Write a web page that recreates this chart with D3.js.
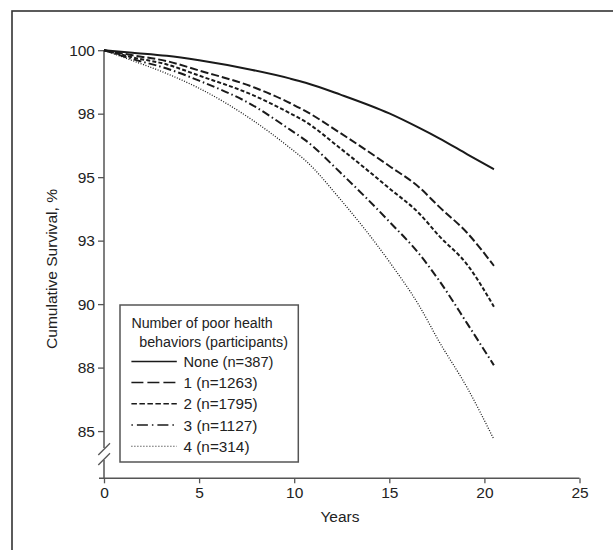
<!DOCTYPE html>
<html>
<head>
<meta charset="utf-8">
<script src="https://cdn.jsdelivr.net/npm/d3@7/dist/d3.min.js"></script>
<style>
  html, body { margin: 0; padding: 0; background: #fff; }
  svg { display: block; }
  text { font-family: "Liberation Sans", Arial, sans-serif; fill: #222; }
</style>
</head>
<body>
<script>
// ---- data ----
const years = [0, 1.5, 3.3, 5, 7.8, 9.8, 10.6, 12.4, 15, 16.6, 17.6, 19.1, 20.5];
const seriesNames = ["None (n=387)", "1 (n=1263)", "2 (n=1795)", "3 (n=1127)", "4 (n=314)"];
const survNone = [100, 99.9, 99.78, 99.6, 99.22, 98.88, 98.72, 98.26, 97.51, 96.93, 96.54, 95.9, 95.31];
const surv1    = [100, 99.8, 99.57, 99.2, 98.56, 97.91, 97.6, 96.75, 95.44, 94.58, 93.85, 92.8, 91.51];
const surv2    = [100, 99.72, 99.44, 99.0, 98.24, 97.51, 97.18, 96.15, 94.56, 93.55, 92.7, 91.55, 89.9];
const surv3    = [100, 99.65, 99.28, 98.8, 97.84, 96.86, 96.45, 95.2, 93.25, 91.95, 90.95, 89.23, 87.59];
const surv4    = [100, 99.59, 99.08, 98.5, 97.25, 96.14, 95.65, 94.15, 91.67, 89.9, 88.55, 86.7, 84.67];
const xTicks = [0, 5, 10, 15, 20, 25];
const yTicks = [100, 97.5, 95, 92.5, 90, 87.5, 85];
const yTickLabels = ["100", "98", "95", "93", "90", "88", "85"];
const legendTitle = ["Number of poor health", "behaviors (participants)"];

const allSeries = [survNone, surv1, surv2, surv3, surv4];
const legendDashes = [null, "12,4", "5.5,2.5", "1.5,4,11,4", "1,2"];
const curveDashes = [null, "8,3", "4,2.2", "8,3,1.5,3", "1,1.6"];
const widths = [2, 2, 2, 2, 1.3];

const W = 613, H = 550;
const FS = 15.5;
const svg = d3.select("body").append("svg").attr("width", W).attr("height", H);

// outer frame (continues past right/bottom edges)
svg.append("rect").attr("x", 12).attr("y", 11).attr("width", 640).attr("height", 600)
  .attr("fill", "none").attr("stroke", "#333").attr("stroke-width", 1.6);

const x = d3.scaleLinear().domain([0, 25]).range([104, 579.5]);
const y = d3.scaleLinear().domain([100, 83.14]).range([50.2, 478.3]);
const axisColor = "#555";

// x axis
const xAxisG = svg.append("g").attr("transform", `translate(0,${y.range()[1]})`)
  .call(d3.axisBottom(x).tickValues(xTicks).tickSize(5).tickSizeOuter(0).tickFormat(d3.format("d")));
xAxisG.select(".domain").remove();
xAxisG.append("line").attr("x1", 99).attr("x2", x(25)).attr("y1", 0).attr("y2", 0)
  .attr("stroke", axisColor).attr("stroke-width", 1.5);
xAxisG.selectAll(".tick line").attr("stroke", axisColor).attr("stroke-width", 1.3);
xAxisG.selectAll(".tick text").attr("font-size", FS).attr("y", 9).attr("dy", "0.71em")
  .style("font-family", '"Liberation Sans", Arial, sans-serif').attr("fill", "#222");

// y axis
const yAxisG = svg.append("g").attr("transform", `translate(${x(0)},0)`)
  .call(d3.axisLeft(y).tickValues(yTicks).tickSize(6).tickSizeOuter(0)
    .tickFormat((d, i) => yTickLabels[i]));
yAxisG.select(".domain").remove();
yAxisG.selectAll(".tick line").attr("stroke", axisColor).attr("stroke-width", 1.3);
yAxisG.selectAll(".tick text").attr("font-size", FS).attr("x", -9)
  .style("font-family", '"Liberation Sans", Arial, sans-serif').attr("fill", "#222");
// y axis line with break
yAxisG.append("line").attr("x1", 0).attr("x2", 0).attr("y1", y(100)).attr("y2", 448)
  .attr("stroke", axisColor).attr("stroke-width", 1.5);
yAxisG.append("line").attr("x1", 0).attr("x2", 0).attr("y1", 460).attr("y2", y.range()[1])
  .attr("stroke", axisColor).attr("stroke-width", 1.5);
[[-5.7, 455, 6, 443.3], [-5.7, 465, 6, 453.3]].forEach(s => {
  yAxisG.append("line").attr("x1", s[0]).attr("y1", s[1]).attr("x2", s[2]).attr("y2", s[3])
    .attr("stroke", axisColor).attr("stroke-width", 1.3);
});

// curves
const line = d3.line().x((d, i) => x(years[i])).y(d => y(d)).curve(d3.curveMonotoneX);
allSeries.forEach((s, k) => {
  svg.append("path").datum(s).attr("d", line).attr("fill", "none")
    .attr("stroke", "#1a1a1a").attr("stroke-width", widths[k])
    .attr("stroke-dasharray", curveDashes[k]);
});

// axis titles
svg.append("text").attr("x", 340).attr("y", 521.5).attr("text-anchor", "middle")
  .attr("font-size", FS).text("Years");
svg.append("text").attr("transform", "translate(57,269) rotate(-90)").attr("text-anchor", "middle")
  .attr("font-size", FS).attr("textLength", 160).attr("lengthAdjust", "spacingAndGlyphs")
  .text("Cumulative Survival, %");

// legend
const lg = svg.append("g");
lg.append("rect").attr("x", 120).attr("y", 305).attr("width", 178.3).attr("height", 157)
  .attr("fill", "#fff").attr("stroke", "#555").attr("stroke-width", 1.5);
lg.append("text").attr("x", 131.4).attr("y", 327.5).attr("font-size", FS)
  .attr("textLength", 141.3).attr("lengthAdjust", "spacingAndGlyphs").text(legendTitle[0]);
lg.append("text").attr("x", 139.2).attr("y", 346.5).attr("font-size", FS)
  .attr("textLength", 148.8).attr("lengthAdjust", "spacingAndGlyphs").text(legendTitle[1]);
const entryWidths = [90, 74, 74, 74, 66];
seriesNames.forEach((name, k) => {
  const cy = 361.4 + k * 21.2;
  lg.append("line").attr("x1", 131.4).attr("x2", 176.8).attr("y1", cy).attr("y2", cy)
    .attr("stroke", "#1a1a1a").attr("stroke-width", k === 4 ? 1.1 : 1.5)
    .attr("stroke-dasharray", legendDashes[k]);
  lg.append("text").attr("x", 183.5).attr("y", cy + 5.5).attr("font-size", FS)
    .attr("textLength", entryWidths[k]).attr("lengthAdjust", "spacingAndGlyphs")
    .text(name);
});
</script>
</body>
</html>
